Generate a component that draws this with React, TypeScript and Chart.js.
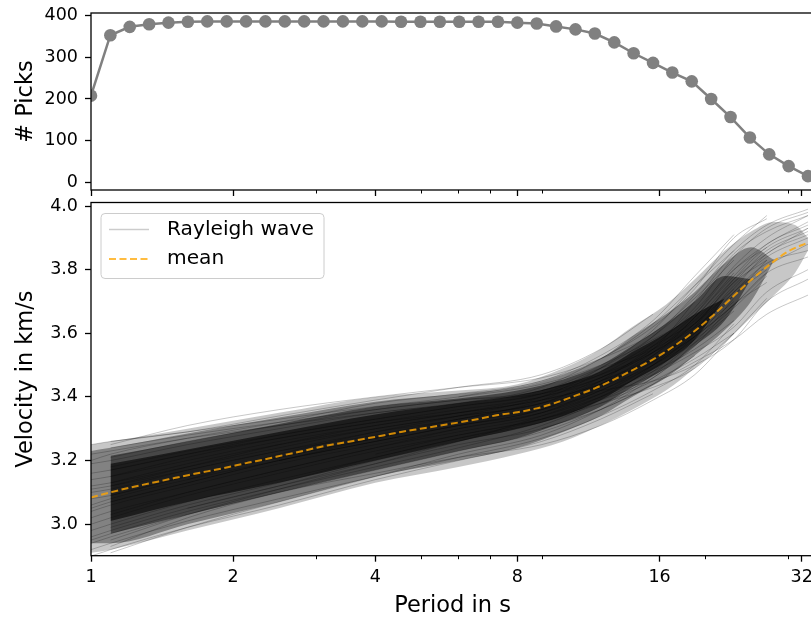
import React, { useEffect, useRef } from 'react';
import { Chart, registerables } from 'chart.js';

Chart.register(...registerables);
Chart.defaults.font.family = 'DejaVu Sans';
Chart.defaults.color = '#000';

// ---------- data ----------
const PERIODS = [1.0, 1.099, 1.208, 1.328, 1.459, 1.604, 1.763, 1.938, 2.13, 2.341, 2.573, 2.828, 3.108, 3.416, 3.755, 4.127, 4.536, 4.986, 5.48, 6.023, 6.62, 7.276, 7.997, 8.79, 9.661, 10.62, 11.67, 12.83, 14.1, 15.5, 17.03, 18.72, 20.58, 22.62, 24.86, 27.32, 30.03, 33.0];
const PICKS = [208, 352, 372, 378, 382, 384, 385, 385, 385, 385, 385, 385, 385, 385, 385, 385, 384, 384, 384, 384, 384, 384, 382, 380, 373, 366, 356, 335, 309, 286, 263, 242, 200, 157, 108, 68, 40, 16];
const MEAN_VELOCITY = [3.084, 3.1, 3.115, 3.128, 3.141, 3.154, 3.166, 3.178, 3.192, 3.204, 3.218, 3.231, 3.245, 3.256, 3.267, 3.278, 3.29, 3.3, 3.31, 3.32, 3.331, 3.343, 3.352, 3.364, 3.382, 3.404, 3.427, 3.455, 3.486, 3.518, 3.556, 3.6, 3.651, 3.708, 3.764, 3.815, 3.858, 3.885];

const X_MAJOR_TICKS = [1, 2, 4, 8, 16, 32];
const X_MINOR_TICKS = [3, 5, 6, 7, 9, 20, 30];
const PICKS_TICKS = [0, 100, 200, 300, 400];
const VELOCITY_TICKS = [3.0, 3.2, 3.4, 3.6, 3.8, 4.0];

// density envelope of the Rayleigh-wave curves
const BAND_PERIODS = [1, 1.1, 1.6, 2.5, 4, 6, 8, 10, 12, 14, 16.5, 19, 22, 25, 28, 31, 33];
const OUTER_LOW = [2.91, 2.92, 2.98, 3.05, 3.13, 3.18, 3.22, 3.26, 3.31, 3.36, 3.42, 3.49, 3.57, 3.65, 3.72, 3.79, 3.86];
const OUTER_HIGH = [3.25, 3.26, 3.3, 3.35, 3.4, 3.42, 3.44, 3.49, 3.55, 3.62, 3.69, 3.77, 3.86, 3.92, 3.95, 3.94, 3.9];
const MIDDLE_LOW = [2.94, 2.94, 3.0, 3.07, 3.15, 3.2, 3.24, 3.29, 3.34, 3.4, 3.46, 3.53, 3.61, 3.7, 3.83, null, null];
const MIDDLE_HIGH = [3.23, 3.24, 3.285, 3.335, 3.385, 3.41, 3.43, 3.47, 3.52, 3.59, 3.66, 3.73, 3.82, 3.87, 3.83, null, null];
const INNER_LOW = [null, 2.97, 3.03, 3.1, 3.17, 3.23, 3.27, 3.32, 3.37, 3.43, 3.49, 3.56, 3.64, 3.77, null, null, null];
const INNER_HIGH = [null, 3.215, 3.26, 3.315, 3.37, 3.395, 3.42, 3.455, 3.5, 3.56, 3.63, 3.7, 3.78, 3.77, null, null, null];
const CORE_LOW = [null, 3.01, 3.07, 3.13, 3.2, 3.26, 3.3, 3.34, 3.39, 3.45, 3.51, 3.58, 3.71, null, null, null, null];
const CORE_HIGH = [null, 3.19, 3.235, 3.29, 3.345, 3.38, 3.405, 3.44, 3.48, 3.54, 3.6, 3.66, 3.71, null, null, null, null];

// individual Rayleigh-wave dispersion curves
const CURVE_PERIODS = [1, 1.1, 1.6, 2.5, 4, 6, 9, 12, 15.5, 19, 23, 27, 33];
const RAYLEIGH_CURVES: (number | null)[][] = [
  [3.25, 3.26, 3.29, 3.33, 3.37, 3.4, 3.44, 3.5, 3.58, 3.66, 3.8, 3.88, 3.95],
  [3.22, 3.23, 3.27, 3.31, 3.36, 3.39, 3.42, 3.49, 3.55, 3.63, 3.74, null, null],
  [3.19, 3.2, 3.25, 3.3, 3.35, 3.38, 3.43, 3.52, 3.62, 3.74, 3.9, 3.96, null],
  [3.16, 3.17, 3.22, 3.28, 3.33, 3.37, 3.41, 3.47, 3.56, 3.64, 3.77, 3.85, 3.93],
  [3.14, 3.15, 3.2, 3.26, 3.31, 3.35, 3.4, 3.45, 3.52, 3.6, 3.7, null, null],
  [3.12, 3.13, 3.18, 3.24, 3.3, 3.34, 3.38, 3.46, 3.55, 3.66, 3.81, 3.9, 3.97],
  [3.1, 3.11, 3.17, 3.23, 3.28, 3.33, 3.37, 3.43, 3.5, 3.58, 3.68, 3.78, null],
  [3.08, 3.09, 3.15, 3.21, 3.27, 3.32, 3.36, 3.42, 3.51, 3.61, 3.75, 3.84, 3.9],
  [3.06, 3.08, 3.14, 3.2, 3.26, 3.31, 3.35, 3.41, 3.48, 3.55, 3.64, null, null],
  [3.04, 3.06, 3.12, 3.19, 3.25, 3.3, 3.35, 3.43, 3.53, 3.63, 3.76, 3.83, null],
  [3.02, 3.04, 3.1, 3.17, 3.24, 3.29, 3.34, 3.4, 3.47, 3.54, 3.62, 3.73, 3.8],
  [3.0, 3.02, 3.09, 3.16, 3.23, 3.28, 3.33, 3.39, 3.46, 3.57, 3.71, null, null],
  [2.98, 3.0, 3.07, 3.14, 3.21, 3.27, 3.32, 3.38, 3.45, 3.52, 3.6, null, null],
  [2.96, 2.98, 3.05, 3.12, 3.19, 3.25, 3.3, 3.37, 3.47, 3.58, 3.72, 3.8, null],
  [2.94, 2.96, 3.03, 3.1, 3.17, 3.23, 3.29, 3.36, 3.44, 3.53, null, null, null],
  [2.92, 2.94, 3.01, 3.08, 3.15, 3.21, 3.27, 3.34, 3.42, 3.5, 3.63, null, null],
  [2.9, 2.92, 2.99, 3.06, 3.14, 3.2, 3.26, 3.33, 3.41, null, null, null, null],
  [null, 3.24, 3.28, 3.32, 3.36, 3.39, 3.41, 3.46, 3.54, 3.62, 3.72, 3.83, null],
  [null, 3.21, 3.26, 3.31, 3.35, 3.38, 3.42, 3.48, 3.57, 3.68, 3.84, 3.93, 3.98],
  [null, 3.18, 3.23, 3.28, 3.33, 3.37, 3.41, 3.49, 3.59, 3.7, null, null, null],
  [null, 3.15, 3.21, 3.27, 3.32, 3.36, 3.4, 3.46, 3.54, 3.63, 3.76, 3.86, 3.92],
  [null, 3.12, 3.18, 3.25, 3.31, 3.35, 3.39, 3.44, 3.51, 3.59, 3.69, 3.79, null],
  [null, 3.07, 3.13, 3.2, 3.26, 3.31, 3.36, 3.44, 3.54, 3.65, 3.79, null, null],
  [null, 3.03, 3.1, 3.17, 3.24, 3.3, 3.35, 3.42, 3.5, 3.6, 3.73, 3.82, 3.86],
  [null, 2.99, 3.06, 3.13, 3.21, 3.27, 3.33, 3.4, 3.49, 3.57, 3.67, null, null],
  [null, 2.95, 3.03, 3.11, 3.19, 3.26, 3.32, 3.39, 3.48, 3.59, null, null, null],
  [null, 2.91, 2.99, 3.07, 3.15, 3.22, 3.28, 3.36, 3.46, 3.56, 3.69, 3.76, null],
  [null, 3.26, 3.29, 3.34, 3.39, 3.43, 3.47, 3.55, 3.66, null, null, null, null],
  [null, null, 3.14, 3.22, 3.29, 3.34, 3.4, 3.49, 3.61, 3.75, 3.88, 3.97, null],
  [null, null, null, 3.2, 3.27, 3.33, 3.38, 3.42, 3.45, 3.5, 3.58, 3.7, 3.77],
  [3.11, 3.12, 3.17, 3.23, 3.29, 3.33, 3.39, 3.48, 3.59, 3.72, 3.86, 3.94, 3.99],
  [3.05, 3.07, 3.13, 3.2, 3.26, 3.31, 3.36, 3.44, 3.52, 3.61, 3.74, 3.85, 3.91],
  [null, 3.09, 3.15, 3.21, 3.27, 3.32, 3.37, 3.45, 3.56, 3.67, 3.8, 3.87, null],
  [null, 3.13, 3.19, 3.25, 3.3, 3.34, 3.38, 3.45, 3.53, 3.65, 3.78, 3.88, 3.94],
  [null, null, null, null, 3.22, 3.28, 3.33, 3.38, 3.43, 3.49, 3.6, null, null],
  [null, null, null, null, null, 3.4, 3.45, 3.52, 3.63, 3.75, 3.86, null, null],
  [null, null, null, null, null, null, 3.42, 3.47, 3.55, 3.7, 3.85, 3.92, 3.97],
  [null, null, null, null, null, null, 3.3, 3.36, 3.44, 3.51, 3.58, 3.66, 3.72],
  [null, 3.25, 3.31, 3.36, 3.4, 3.43, 3.46, 3.52, 3.6, 3.71, 3.83, null, null],
  [null, 2.93, 3.02, 3.1, 3.16, 3.21, 3.25, 3.31, 3.39, 3.47, 3.6, 3.71, null],
  [3.2, 3.22, 3.27, 3.32, 3.38, 3.41, 3.45, 3.53, 3.64, 3.78, 3.91, null, null],
  [2.95, 2.97, 3.04, 3.11, 3.18, 3.24, 3.31, 3.39, 3.5, 3.62, 3.77, 3.87, 3.93],
  [null, null, 3.05, 3.12, 3.2, 3.26, 3.34, 3.41, 3.5, 3.59, 3.69, 3.79, 3.84],
  [null, 3.17, 3.22, 3.27, 3.32, 3.35, 3.39, 3.44, 3.52, 3.61, 3.73, 3.81, 3.88],
];

// ---------- helpers ----------
const FONT = 'DejaVu Sans';
const TICK_SIZE = 17.5;
const LABEL_SIZE = 22.5;
const toPoints = (xs: number[], ys: (number | null)[]) =>
  xs.map((x, i) => (ys[i] == null ? null : { x, y: ys[i] as number })).filter((p) => p !== null) as { x: number; y: number }[];

const framePlugin = {
  id: 'frameAndMinor',
  afterDraw(chart: any) {
    const { ctx, chartArea: a, scales } = chart;
    ctx.save();
    ctx.strokeStyle = '#000';
    ctx.lineWidth = 1.3;
    ctx.strokeRect(a.left, a.top, a.right - a.left, a.bottom - a.top);
    ctx.lineWidth = 1;
    ctx.beginPath();
    for (const v of X_MINOR_TICKS) {
      const x = Math.round(scales.x.getPixelForValue(v)) + 0.5;
      ctx.moveTo(x, a.bottom);
      ctx.lineTo(x, a.bottom + 3.5);
    }
    ctx.stroke();
    ctx.restore();
  },
};

const legendPlugin = {
  id: 'velLegend',
  afterDraw(chart: any) {
    const { ctx, chartArea: a } = chart;
    const L = a.left;
    const T = a.top;
    ctx.save();
    ctx.beginPath();
    (ctx as any).roundRect(L + 10, T + 11, 223, 65, 4);
    ctx.fillStyle = 'rgba(255,255,255,0.8)';
    ctx.fill();
    ctx.strokeStyle = '#cccccc';
    ctx.lineWidth = 1;
    ctx.stroke();
    ctx.beginPath();
    ctx.strokeStyle = 'rgba(0,0,0,0.2)';
    ctx.lineWidth = 1.3;
    ctx.moveTo(L + 18, T + 27);
    ctx.lineTo(L + 58, T + 27);
    ctx.stroke();
    ctx.beginPath();
    ctx.setLineDash([7, 3.5]);
    ctx.strokeStyle = 'rgba(255,165,0,0.75)';
    ctx.lineWidth = 2;
    ctx.moveTo(L + 18, T + 56.5);
    ctx.lineTo(L + 58, T + 56.5);
    ctx.stroke();
    ctx.setLineDash([]);
    ctx.fillStyle = '#000';
    ctx.font = `20.2px ${FONT}`;
    ctx.textBaseline = 'middle';
    ctx.textAlign = 'left';
    ctx.fillText('Rayleigh wave', L + 76, T + 27);
    ctx.fillText('mean', L + 76, T + 56.5);
    ctx.restore();
  },
};

const gridOpts = { drawOnChartArea: false, drawTicks: true, tickLength: 6, tickWidth: 1.3, tickColor: '#000' };

export default function App() {
  const topRef = useRef<HTMLCanvasElement>(null);
  const botRef = useRef<HTMLCanvasElement>(null);

  useEffect(() => {
    const top = new Chart(topRef.current as HTMLCanvasElement, {
      type: 'line',
      data: {
        datasets: [
          {
            data: toPoints(PERIODS, PICKS),
            borderColor: '#808080',
            backgroundColor: '#808080',
            borderWidth: 2.5,
            pointRadius: 6.3,
            pointHoverRadius: 6.3,
            pointBackgroundColor: '#808080',
            pointBorderWidth: 0,
            clip: 0,
          } as any,
        ],
      },
      options: {
        animation: false,
        responsive: false,
        events: [],
        layout: { padding: { left: 0, top: 13, right: 15.9, bottom: 0 } },
        plugins: { legend: { display: false }, tooltip: { enabled: false } },
        scales: {
          x: {
            type: 'logarithmic',
            min: 1,
            max: 34,
            afterBuildTicks: (s: any) => {
              s.ticks = X_MAJOR_TICKS.map((v) => ({ value: v }));
            },
            ticks: { display: false },
            grid: gridOpts,
            border: { display: false },
            afterFit: (s: any) => {
              s.height = 10;
              s.paddingLeft = 0;
              s.paddingRight = 0;
            },
          } as any,
          y: {
            type: 'linear',
            min: -17,
            max: 405,
            afterBuildTicks: (s: any) => {
              s.ticks = PICKS_TICKS.map((v) => ({ value: v }));
            },
            ticks: { font: { size: TICK_SIZE, family: FONT }, color: '#000', padding: 7, callback: (v: any) => String(v) },
            grid: gridOpts,
            border: { display: false },
            title: { display: true, text: '# Picks', color: '#000', font: { size: LABEL_SIZE, family: FONT, lineHeight: 1.2 }, padding: { top: 12.5, bottom: 0 } },
            afterFit: (s: any) => {
              s.width = 91;
              s.paddingTop = 0;
              s.paddingBottom = 0;
            },
          } as any,
        },
      },
      plugins: [framePlugin],
    });

    const bandSet = (lo: (number | null)[], hi: (number | null)[], alpha: number) => [
      { data: toPoints(BAND_PERIODS, lo), borderColor: 'rgba(0,0,0,0)', borderWidth: 0, pointRadius: 0, fill: false, order: 10, clip: 0, cubicInterpolationMode: 'monotone' },
      { data: toPoints(BAND_PERIODS, hi), borderColor: 'rgba(0,0,0,0)', borderWidth: 0, pointRadius: 0, fill: '-1', backgroundColor: `rgba(0,0,0,${alpha})`, order: 10, clip: 0, cubicInterpolationMode: 'monotone' },
    ];

    const datasets: any[] = [
      {
        label: 'mean',
        data: toPoints(PERIODS, MEAN_VELOCITY),
        borderColor: 'rgba(255,165,0,0.8)',
        borderWidth: 2,
        borderDash: [7, 3.5],
        pointRadius: 0,
        order: 0,
        clip: 0,
        cubicInterpolationMode: 'monotone',
      },
      ...RAYLEIGH_CURVES.map((c) => ({
        label: 'Rayleigh wave',
        data: toPoints(CURVE_PERIODS, c),
        borderColor: 'rgba(0,0,0,0.22)',
        borderWidth: 1,
        pointRadius: 0,
        order: 5,
        clip: 0,
        cubicInterpolationMode: 'monotone',
      })),
      ...bandSet(OUTER_LOW, OUTER_HIGH, 0.22),
      ...bandSet(MIDDLE_LOW, MIDDLE_HIGH, 0.35),
      ...bandSet(INNER_LOW, INNER_HIGH, 0.45),
      ...bandSet(CORE_LOW, CORE_HIGH, 0.6),
    ];

    const bot = new Chart(botRef.current as HTMLCanvasElement, {
      type: 'line',
      data: { datasets },
      options: {
        animation: false,
        responsive: false,
        events: [],
        layout: { padding: { left: 0, top: 7.5, right: 15.9, bottom: 0 } },
        plugins: { legend: { display: false }, tooltip: { enabled: false } },
        scales: {
          x: {
            type: 'logarithmic',
            min: 1,
            max: 34,
            afterBuildTicks: (s: any) => {
              s.ticks = X_MAJOR_TICKS.map((v) => ({ value: v }));
            },
            ticks: { font: { size: TICK_SIZE, family: FONT }, color: '#000', padding: 5.5, maxRotation: 0, autoSkip: false, callback: (v: any) => String(v) },
            grid: gridOpts,
            border: { display: false },
            title: { display: true, text: 'Period in s', color: '#000', font: { size: LABEL_SIZE, family: FONT, lineHeight: 1.0 }, padding: { top: 0, bottom: 0 } },
            afterFit: (s: any) => {
              s.height = 61.3;
              s.paddingLeft = 0;
              s.paddingRight = 0;
            },
          } as any,
          y: {
            type: 'linear',
            min: 2.901,
            max: 4.011,
            afterBuildTicks: (s: any) => {
              s.ticks = VELOCITY_TICKS.map((v) => ({ value: v }));
            },
            ticks: { font: { size: TICK_SIZE, family: FONT }, color: '#000', padding: 7, callback: (v: any) => Number(v).toFixed(1) },
            grid: gridOpts,
            border: { display: false },
            title: { display: true, text: 'Velocity in km/s', color: '#000', font: { size: LABEL_SIZE, family: FONT, lineHeight: 1.2 }, padding: { top: 12.5, bottom: 0 } },
            afterFit: (s: any) => {
              s.width = 91;
              s.paddingTop = 0;
              s.paddingBottom = 0;
            },
          } as any,
        },
      },
      plugins: [framePlugin, legendPlugin],
    });

    return () => {
      top.destroy();
      bot.destroy();
    };
  }, []);

  return (
    <div style={{ position: 'absolute', left: 0, top: 0, width: 811, height: 617, overflow: 'hidden', background: '#fff' }}>
      <canvas ref={topRef} width={830} height={200} style={{ position: 'absolute', left: 0, top: 0 }} />
      <canvas ref={botRef} width={830} height={422} style={{ position: 'absolute', left: 0, top: 195 }} />
    </div>
  );
}
